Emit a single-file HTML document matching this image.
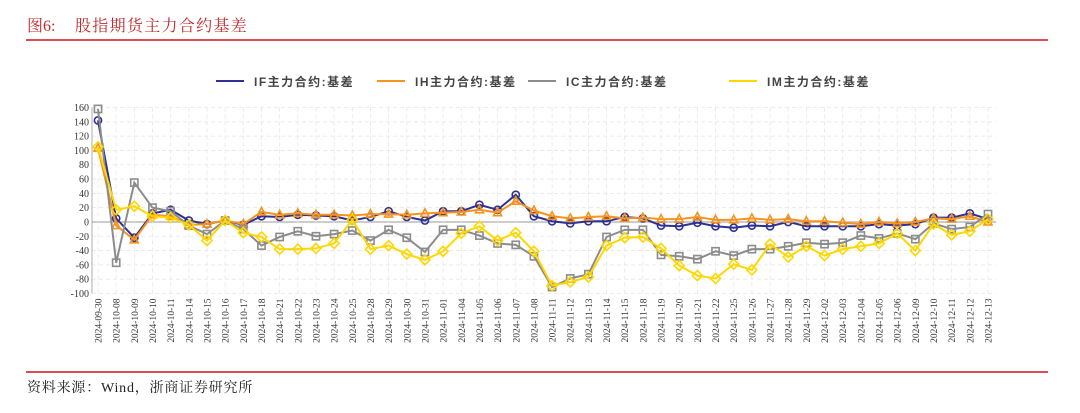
<!DOCTYPE html>
<html><head><meta charset="utf-8">
<style>
body{margin:0;background:#fff;width:1080px;height:408px;overflow:hidden;font-family:"Liberation Serif","Noto Serif CJK SC",serif;}
</style></head>
<body>
<svg id="chart" width="1080" height="408" xmlns="http://www.w3.org/2000/svg">
<text y="31" fill="#c0282d" font-size="16" font-family="Liberation Serif, Noto Serif CJK SC, serif"><tspan x="27">图6:</tspan><tspan x="75" letter-spacing="1.3">股指期货主力合约基差</tspan></text>
<line x1="26" y1="40" x2="1048" y2="40" stroke="#c9161d" stroke-width="1.5"/>
<line x1="26" y1="372" x2="1048" y2="372" stroke="#c9161d" stroke-width="1.5"/>
<text x="27" y="392" fill="#222" font-size="14" letter-spacing="0.8" font-family="Liberation Serif, Noto Serif CJK SC, serif">资料来源：Wind，浙商证券研究所</text>
<g id="grid"></g><g id="axes"></g><g id="series"></g><g id="legend"></g>
</svg>
<script>
const dates=["2024-09-30","2024-10-08","2024-10-09","2024-10-10","2024-10-11","2024-10-14","2024-10-15","2024-10-16","2024-10-17","2024-10-18","2024-10-21","2024-10-22","2024-10-23","2024-10-24","2024-10-25","2024-10-28","2024-10-29","2024-10-30","2024-10-31","2024-11-01","2024-11-04","2024-11-05","2024-11-06","2024-11-07","2024-11-08","2024-11-11","2024-11-12","2024-11-13","2024-11-14","2024-11-15","2024-11-18","2024-11-19","2024-11-20","2024-11-21","2024-11-22","2024-11-25","2024-11-26","2024-11-27","2024-11-28","2024-11-29","2024-12-02","2024-12-03","2024-12-04","2024-12-05","2024-12-06","2024-12-09","2024-12-10","2024-12-11","2024-12-12","2024-12-13"];
const ifVals=[142,5,-22,12,17,2,-3,2,-4,8,7,10,9,8,2,7,15,7,2,15,15,24,17,38,8,1,-2,1,1,7,5,-5,-6,-1,-6,-8,-5,-6,0,-6,-6,-6,-6,-3,-5,-3,6,6,12,4];
const ihVals=[103,-5,-25,10,8,-4,-3,2,-3,14,10,12,10,10,9,11,11,10,12,13,14,17,13,29,16,8,5,7,8,5,6,4,4,7,3,3,5,3,4,1,1,-1,-3,0,-2,0,5,4,8,0];
const icVals=[158,-57,55,20,15,-5,-17,2,-10,-33,-21,-13,-20,-17,-12,-26,-11,-22,-42,-11,-11,-19,-30,-32,-48,-91,-79,-73,-21,-11,-11,-46,-48,-52,-41,-47,-38,-38,-34,-29,-31,-29,-19,-23,-16,-24,-2,-10,-7,11];
const imVals=[105,17,22,8,6,-4,-26,2,-15,-21,-38,-38,-37,-30,3,-38,-33,-45,-53,-41,-16,-6,-26,-15,-41,-89,-84,-77,-33,-22,-21,-37,-61,-75,-79,-59,-67,-31,-49,-34,-47,-38,-34,-30,-16,-40,-3,-18,-13,4];
const yTicks=[160,140,120,100,80,60,40,20,0,-20,-40,-60,-80,-100];
const seriesNames=["IF主力合约:基差","IH主力合约:基差","IC主力合约:基差","IM主力合约:基差"];
const NS="http://www.w3.org/2000/svg";
const x0=98,x1=988,yTop=107.5,yBot=293.5,vMax=160,vMin=-100;
const xs=i=>x0+(x1-x0)*i/(dates.length-1);
const ys=v=>yTop+(vMax-v)*(yBot-yTop)/(vMax-vMin);
function mk(tag,attrs,parent){const e=document.createElementNS(NS,tag);for(const k in attrs)e.setAttribute(k,attrs[k]);parent.appendChild(e);return e;}
const grid=document.getElementById('grid'),axes=document.getElementById('axes'),ser=document.getElementById('series'),leg=document.getElementById('legend');
yTicks.forEach(t=>{
  const l=mk('line',{x1:x0-6,x2:x1+8,y1:ys(t),y2:ys(t),stroke:t===0?'#bbb':'#e6e6e6','stroke-width':t===0?1.5:0.8,'stroke-dasharray':t===0?'':'4,3'},grid);
  
  
  const tx=mk('text',{x:89,y:ys(t)+3.5,'text-anchor':'end','font-size':10,fill:'#333'},axes);
  tx.textContent=t;
  
  
});
dates.forEach((d,i)=>{
  const l=mk('line',{x1:xs(i),x2:xs(i),y1:yTop,y2:yBot,stroke:'#e6e6e6','stroke-width':0.8,'stroke-dasharray':'4,3'},grid);
  
  
  const tx=mk('text',{transform:`translate(${xs(i)+3.5},${yBot+5}) rotate(-90)`,'text-anchor':'end','font-size':9.5,fill:'#333'},axes);
  tx.textContent=d;
  
  
});
const ax=mk('line',{x1:x0-6,x2:x0-6,y1:yTop,y2:yBot,stroke:'#999','stroke-width':0.8},axes);


const defs=[[ifVals,'#2e3192','circle'],[ihVals,'#f7931e','tri'],[icVals,'#8c8c8c','square'],[imVals,'#ffd700','diamond']];
function marker(type,x,y,c,g){
  let e;
  if(type==='circle')e=mk('circle',{cx:x,cy:y,r:3.6,fill:'none',stroke:c,'stroke-width':1.6},g);
  else if(type==='square')e=mk('rect',{x:x-3.6,y:y-3.6,width:7.2,height:7.2,fill:'none',stroke:c,'stroke-width':1.6},g);
  else if(type==='tri')e=mk('polygon',{points:`${x},${y-4.5} ${x+4},${y+3} ${x-4},${y+3}`,fill:'none',stroke:c,'stroke-width':1.6},g);
  else e=mk('polygon',{points:`${x},${y-5} ${x+5},${y} ${x},${y+5} ${x-5},${y}`,fill:'none',stroke:c,'stroke-width':1.6},g);
  
  
}
defs.forEach(([vals,c,m],si)=>{
  const g=mk('g',{},ser);
  
  
  const p=mk('polyline',{points:vals.map((v,i)=>xs(i)+','+ys(v)).join(' '),fill:'none',stroke:c,'stroke-width':2},g);
  
  
  vals.forEach((v,i)=>marker(m,xs(i),ys(v),c,g));
});
const legX=[216,377,528,729];
defs.forEach(([v,c],i)=>{
  const g=mk('g',{},leg);
  
  
  mk('line',{x1:legX[i],x2:legX[i]+28,y1:81,y2:81,stroke:c,'stroke-width':2},g);
  const t=mk('text',{x:legX[i]+38,y:86,'font-size':12,fill:'#444','font-weight':'bold','letter-spacing':'1.5','font-family':'Liberation Sans, Noto Sans CJK SC, sans-serif'},g);
  t.textContent=seriesNames[i];
});
</script>
</body></html>
